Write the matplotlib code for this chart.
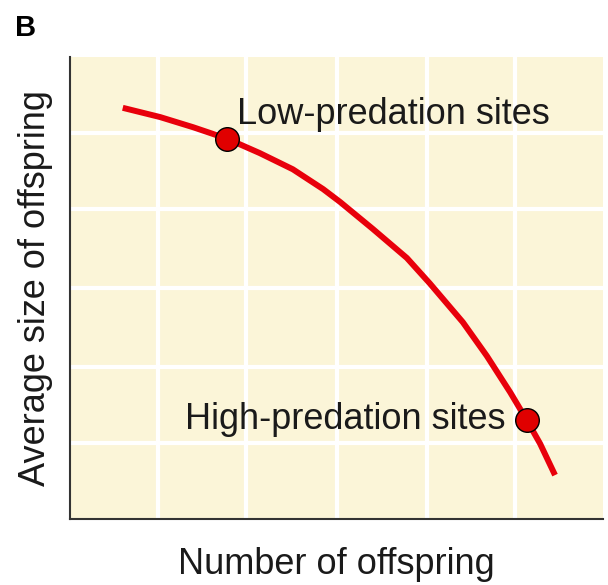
import matplotlib
matplotlib.use("Agg")
import matplotlib.pyplot as plt

plt.rcParams['font.family'] = ['Liberation Sans', 'DejaVu Sans']

# Trade-off curve (number of offspring vs. average size)
curve_x = [0.99, 1.69, 2.31, 2.95, 3.56, 4.18, 4.75, 5.07, 5.68, 6.32, 6.75, 7.37, 7.82, 8.26, 8.57, 8.82, 9.10]
curve_y = [8.90, 8.70, 8.48, 8.23, 7.92, 7.57, 7.14, 6.86, 6.28, 5.65, 5.10, 4.26, 3.53, 2.74, 2.14, 1.63, 0.95]

site_labels = ["Low-predation sites", "High-predation sites"]
site_x = [2.95, 8.57]
site_y = [8.23, 2.14]

grid_pos = [1.65, 3.30, 5.00, 6.70, 8.35]

fig = plt.figure(figsize=(6.08, 5.85), dpi=100)
ax = fig.add_axes([70/608, 1-519/585, 533/608, 462/585])
ax.set_xlim(0, 10)
ax.set_ylim(0, 10)
ax.set_facecolor('#fbf5d8')

ax.set_xticks(grid_pos)
ax.set_yticks(grid_pos)
ax.tick_params(length=0, labelbottom=False, labelleft=False)
ax.grid(True, color='white', linewidth=3)
ax.set_axisbelow(True)

for s in ['top', 'right']:
    ax.spines[s].set_visible(False)
for s in ['left', 'bottom']:
    ax.spines[s].set_color('#333333')
    ax.spines[s].set_linewidth(1.5)

ax.plot(curve_x, curve_y, color='#e8000b', linewidth=4.3, solid_capstyle='butt',
        solid_joinstyle='round', antialiased=True, zorder=3)
ax.plot(site_x, site_y, 'o', markersize=17, markerfacecolor='#e00000',
        markeredgecolor='black', markeredgewidth=1.0, zorder=4)

ax.text(site_x[0] + 0.18, site_y[0] + 0.52, site_labels[0], fontsize=26,
        color='#1a1a1a', ha='left', va='center')
ax.text(site_x[1] - 0.40, site_y[1] + 0.02, site_labels[1], fontsize=26,
        color='#1a1a1a', ha='right', va='center')

ax.set_xlabel("Number of offspring", fontsize=26, color='#1a1a1a', labelpad=20)
ax.set_ylabel("Average size of offspring", fontsize=26, color='#1a1a1a', labelpad=12)

fig.text(15/608, 1-28/585, "B", fontsize=21, fontweight='bold', ha='left', va='center')

fig.savefig("out.png", dpi=100)
